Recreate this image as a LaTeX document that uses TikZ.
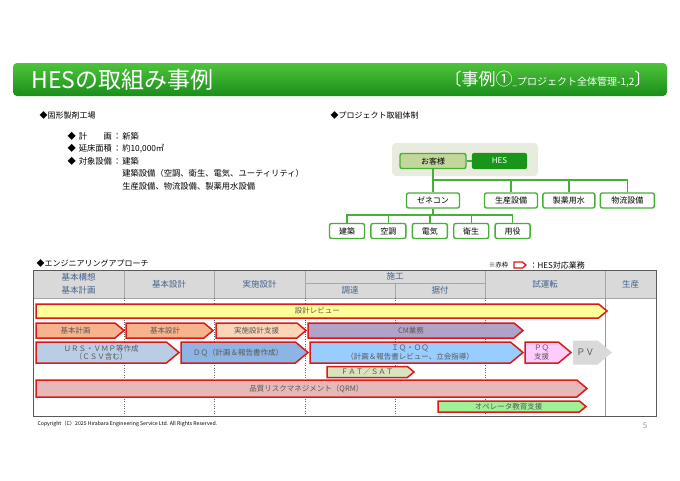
\documentclass[tikz,border=0pt]{standalone}
\usepackage{fontspec}
\setmainfont{Noto Sans CJK JP}
\usepackage{tikz}
\usetikzlibrary{arrows,positioning}
\usepackage{xcolor}
\definecolor{bantop}{RGB}{78,196,60}
\definecolor{banbot}{RGB}{26,142,26}
\definecolor{hesgreen}{RGB}{70,175,55}
\definecolor{hesdark}{RGB}{25,150,25}
\definecolor{hesred}{RGB}{220,25,25}
\definecolor{hdrgray}{RGB}{217,217,217}
\definecolor{hdrtext}{RGB}{70,100,140}
\definecolor{revyel}{RGB}{255,255,153}
\definecolor{planor}{RGB}{247,180,140}
\definecolor{suppor}{RGB}{251,213,181}
\definecolor{cmpur}{RGB}{178,162,199}
\definecolor{ursblu}{RGB}{185,205,229}
\definecolor{dqblu}{RGB}{141,180,226}
\definecolor{iqblu}{RGB}{153,204,255}
\definecolor{pqpink}{RGB}{255,204,255}
\definecolor{fatgrn}{RGB}{215,228,189}
\definecolor{qrmpnk}{RGB}{230,185,184}
\definecolor{opegrn}{RGB}{160,240,150}
\definecolor{custfill}{RGB}{196,215,155}
\definecolor{orgback}{RGB}{232,236,222}
% name, fill, left x, tip x, top y, bottom y, text
\newcommand\chevbox[7]{%
  \path[chev,#2] (#3,#5) -- ({#4-0.6*(#6-#5)},#5) -- (#4,{(#5+#6)/2}) -- ({#4-0.6*(#6-#5)},#6) -- (#3,#6) -- cycle;
  \node[chevtext] (#1) at ({(#3+#4-0.6*(#6-#5))/2},{(#5+#6)/2}) {#7};}

\begin{document}
\begin{tikzpicture}[x=1pt,y=-1pt,font=\fontsize{8}{10}\selectfont,
  org/.style={draw=hesgreen,line width=1.4pt,rounded corners=2pt,fill=white,minimum height=15pt,inner sep=0pt},
  link/.style={draw=hesgreen,line width=1.4pt},
  chev/.style={draw=hesred,line width=1.5pt},
  chevtext/.style={inner sep=0pt,text=black!65,align=center,font=\fontsize{7.5}{8.5}\selectfont},
  hdr/.style={text=hdrtext,align=center,font=\fontsize{8.5}{13}\selectfont},
  tabline/.style={draw=black!35,line width=0.6pt}]
\path[fill=white,use as bounding box] (0,0) rectangle (680,480);

\shade[top color=bantop,bottom color=banbot,rounded corners=4pt] (13,63) rectangle (667,96);
\node[anchor=west,text=white,font=\fontsize{23}{23}\selectfont] (title) at (28,80) {HESの取組み事例};
\node[anchor=east,text=white] (case) at (655,79) {{\fontsize{17}{17}\selectfont 〔事例①}\_{\fontsize{10}{10}\selectfont プロジェクト全体管理-1,2}{\fontsize{17}{17}\selectfont 〕}};

\node[anchor=west] (plant) at (36,115) {◆固形製剤工場};
\node[anchor=north west,font=\fontsize{8.3}{12.5}\selectfont] (spec) at (64,127) {\begin{tabular}{@{}l@{\hspace{3pt}}l@{\hspace{1pt}}l@{\hspace{1pt}}l@{}}
◆ & 計　　画 & ： & 新築\\
◆ & 延床面積 & ： & 約10,000㎡\\
◆ & 対象設備 & ： & 建築\\
 & & & 建築設備（空調、衛生、電気、ユーティリティ）\\
 & & & 生産設備、物流設備、製薬用水設備
\end{tabular}};

\node[anchor=west] (orgttl) at (327,115) {◆プロジェクト取組体制};
\node[fill=orgback,rounded corners=4pt,minimum width=146pt,minimum height=33pt] (back) at (465,159.5) {};
\node[org,fill=custfill,minimum width=66pt] (cust) at (433,161) {お客様};
\node[org,fill=hesdark,draw=hesdark,text=white,minimum width=54pt] (hes) at (499.5,161) {HES};
\node[org,minimum width=53pt] (gene) at (433,200.5) {ゼネコン};
\node[org,minimum width=53pt] (prod) at (511,200.5) {生産設備};
\node[org,minimum width=52pt] (water) [right=4pt of prod] {製薬用水};
\node[org,minimum width=54pt] (logi) [right=4pt of water] {物流設備};
\node[org,minimum width=35pt] (bldg) at (347,231) {建築};
\node[org,minimum width=35pt] (hvac) [right=5pt of bldg] {空調};
\node[org,minimum width=35pt] (elec) [right=5pt of hvac] {電気};
\node[org,minimum width=35pt] (sani) [right=5pt of elec] {衛生};
\node[org,minimum width=35pt] (util) [right=5pt of sani] {用役};
\coordinate (bus) at (433,180);
\coordinate (bus2) at (433,215);
\path[link] (cust) -- (hes)
  (cust) -- (gene)
  (gene) -- (bus2);
\foreach \n in {prod,water,logi} \path[link] (bus) -| (\n.north);
\foreach \n in {bldg,hvac,elec,sani,util} \path[link] (bus2) -| (\n.north);

\node[anchor=west] (engttl) at (33,263) {◆エンジニアリングアプローチ};
\node[anchor=east,font=\fontsize{6.5}{8}\selectfont] (legtxt) at (512,265) {※赤枠};
\chevbox{legmark}{fill=white,line width=1.3pt}{514}{526}{262}{268}{}
\node[anchor=west,font=\fontsize{8}{8}\selectfont] (legdesc) at (526,265) {：HES対応業務};

\fill[hdrgray] (33,270) rectangle (656,298);
\foreach \x in {124,214,305,485,605} \path[tabline] (\x,270) -- (\x,298);
\path[tabline] (305,283) -- (485,283) (395,283) -- (395,298) (33,298) -- (656,298);
\foreach \x in {124,214,305,395,485} \draw[black!60,dotted] (\x,298) -- (\x,416);
\draw[black!40] (605,298) -- (605,416);
\draw[black!65,line width=1pt] (33,270) rectangle (656,416);
\node[hdr] (h1) at (78.5,284) {基本構想\\基本計画};
\node[hdr] (h2) at (169,284) {基本設計};
\node[hdr] (h3) at (259.5,284) {実施設計};
\node[hdr] (h4) at (395,276.5) {施工};
\node[hdr] (h4a) at (350,290.5) {調達};
\node[hdr] (h4b) at (440,290.5) {据付};
\node[hdr] (h5) at (545,284) {試運転};
\node[hdr] (h6) at (630.5,284) {生産};

\chevbox{rev}{fill=revyel}{36}{607}{304}{318}{設計レビュー}
\chevbox{kk}{fill=planor}{36}{124}{323}{338}{基本計画}
\chevbox{kb}{fill=planor}{126}{213}{323}{338}{基本設計}
\chevbox{js}{fill=suppor}{216}{306}{323}{338}{実施設計支援}
\chevbox{cm}{fill=cmpur}{308}{523}{323}{338}{CM業務}
\chevbox{urs}{fill=ursblu}{36}{179}{342}{363}{ＵＲＳ・ＶＭＰ等作成\\（ＣＳＶ含む）}
\chevbox{dq}{fill=dqblu}{181}{308}{342}{363}{ＤＱ（計画＆報告書作成）}
\chevbox{iq}{fill=iqblu}{310}{523}{342}{363}{ＩＱ・ＯＱ\\（計画＆報告書レビュー、立会指導）}
\chevbox{pq}{fill=pqpink}{525}{571}{342}{363}{ＰＱ\\支援}
\chevbox{pv}{fill=hdrgray,draw=none}{573}{612}{340.5}{364.5}{\fontsize{9}{9}\selectfont ＰＶ}
\chevbox{fat}{fill=fatgrn}{327}{414}{366.5}{377.5}{ＦＡＴ／ＳＡＴ}
\chevbox{qrm}{fill=qrmpnk}{36}{587}{380}{397}{品質リスクマネジメント（QRM）}
\chevbox{ope}{fill=opegrn}{438}{586}{401}{412}{オペレータ教育支援}

\node[anchor=west,font=\fontsize{5.2}{6}\selectfont] (copy) at (34,424) {Copyright（C）2025 Hirabara Engineering Service Ltd. All Rights Reserved.};
\node[text=black!40] (page) at (645,426) {5};
\end{tikzpicture}
\end{document}
